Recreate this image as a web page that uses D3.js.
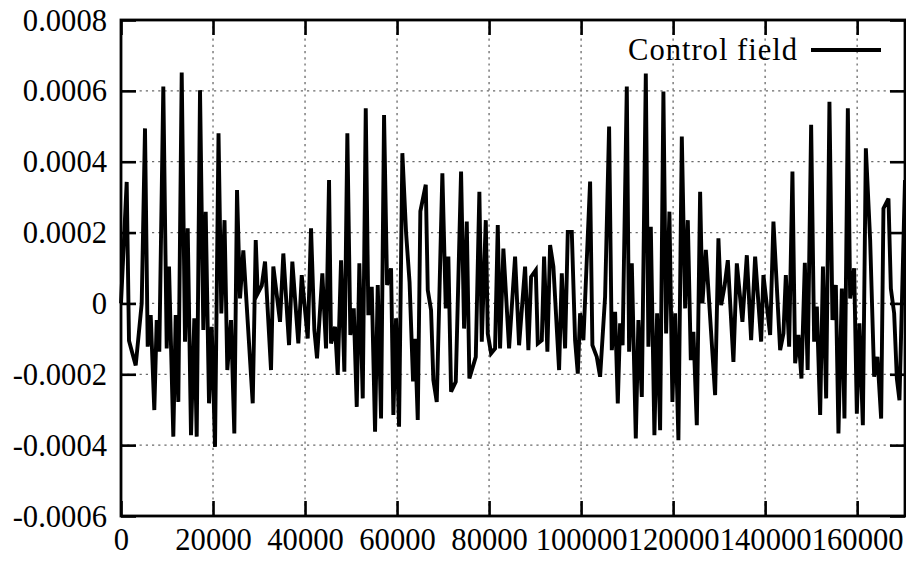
<!DOCTYPE html>
<html>
<head>
<meta charset="utf-8">
<script src="https://cdn.jsdelivr.net/npm/d3@7"></script>
<style>
  html, body { margin: 0; padding: 0; background: #fff; }
  svg text { font-family: "Liberation Serif", "DejaVu Serif", serif; fill: #000; }
</style>
</head>
<body>
<svg id="chart" width="906" height="563"></svg>
<script>
// ---- data ----
const seriesName = "Control field";
const timeValues = [0,1239,1739,2457,3196,4500,5217,5804,6457,7239,7761,8326,9196,9935,10435,11370,11891,12457,13196,13913,
14500,15217,15935,16457,17174,17891,18413,19130,19717,20435,21196,21804,22500,23109,23913,24630,25217,25870,26587,28630,
29283,29717,30587,31304,32609,33109,34565,35283,36522,37239,38543,39283,40587,41304,42022,42609,43761,44565,45217,45652,
46522,47109,47826,48543,49196,49848,50587,51239,51804,52543,53196,53761,54500,55217,55804,56522,57174,57826,58696,59196,
59783,60435,61152,61957,62717,63478,63913,64500,65065,66239,66674,67391,67891,68630,69848,70587,71152,71739,72761,73913,
74565,75152,75717,77109,77891,78413,79283,79717,80435,81304,81891,82391,83109,84348,85652,86522,87826,88543,89130,90152,
90587,91457,91957,92674,93261,93978,95217,95804,96522,97109,97978,98696,99283,99783,100500,101957,102457,103413,104130,105217,
106087,106674,107391,107978,108478,109022,109935,110435,111022,111891,112457,113196,114065,114630,115152,115935,116522,117174,117891,118478,
119196,119848,120435,121152,121891,122609,123196,123848,124413,125152,125870,126370,127109,129130,129848,130435,131196,131891,133109,133848,
135065,136022,136957,137826,139130,139630,141087,141804,143261,143978,144500,145217,145935,146522,147239,147891,148630,149239,150000,150652,
151239,151957,152565,153261,153978,154630,155370,155935,156674,157239,157978,158478,159348,159935,160500,161239,161891,162826,163696,164413,
165217,165717,166804,167326,168043,168630,169196,170400];
const fieldValues = [0.00000,0.000343,-0.000105,-0.000140,-0.000175,0.00000,0.000494,-0.000122,-0.000033,-0.000301,-0.000047,-0.000136,0.000612,-0.000127,0.000104,-0.000376,-0.000033,-0.000278,0.000652,-0.000108,
0.000212,-0.000372,-0.000042,-0.000376,0.000602,-0.000075,0.000259,-0.000282,-0.000066,-0.000405,0.000480,-0.000028,0.000235,-0.000188,-0.000047,-0.000367,0.000320,0.000014,0.000150,-0.000282,
0.000179,0.000028,0.000050,0.000118,-0.000188,0.000104,-0.000052,0.000141,-0.000118,0.000118,-0.000113,0.000080,-0.000099,0.000212,-0.000075,-0.000155,0.000085,-0.000127,0.000348,-0.000113,
-0.000066,-0.000202,0.000122,-0.000193,0.000480,-0.000089,-0.000014,-0.000292,0.000113,-0.000268,0.000551,-0.000033,0.000047,-0.000362,0.000052,-0.000325,0.000532,0.000052,0.000099,-0.000315,
-0.000042,-0.000348,0.000424,0.000200,0.000060,-0.000220,-0.000100,-0.000329,0.000260,0.000335,0.000038,-0.000019,-0.000216,-0.000278,0.000367,-0.000014,0.000132,-0.000249,-0.000221,0.000372,
-0.000071,0.000231,-0.000212,-0.000151,0.000315,-0.000108,0.000235,-0.000085,-0.000141,-0.000127,0.000221,-0.000127,0.000155,-0.000127,0.000132,-0.000118,0.000104,-0.000132,0.000075,0.000094,
-0.000113,-0.000104,0.000132,-0.000136,0.000165,0.000104,-0.000188,0.000085,-0.000127,0.000202,0.000202,-0.000104,-0.000198,-0.000028,-0.000104,0.000344,-0.000118,-0.000151,-0.000207,0.000019,
0.000499,-0.000132,-0.000024,-0.000282,-0.000056,-0.000118,0.000612,-0.000136,0.000113,-0.000381,-0.000047,-0.000264,0.000649,-0.000122,0.000216,-0.000372,-0.000028,-0.000358,0.000598,-0.000085,
0.000259,-0.000278,-0.000028,-0.000386,0.000471,-0.000014,0.000235,-0.000160,-0.000080,-0.000344,0.000315,0.000000,0.000151,-0.000259,0.000184,-0.000005,0.000050,0.000122,-0.000165,0.000113,
-0.000052,0.000136,-0.000104,0.000132,-0.000108,0.000080,-0.000089,0.000231,-0.000132,-0.000085,0.000080,-0.000122,0.000372,-0.000169,-0.000089,-0.000212,0.000115,-0.000188,0.000504,-0.000108,
-0.000009,-0.000315,0.000104,-0.000268,0.000569,-0.000047,0.000052,-0.000367,0.000042,-0.000325,0.000551,0.000014,0.000099,-0.000311,-0.000056,-0.000344,0.000438,0.000179,-0.000207,-0.000151,
-0.000325,0.000268,0.000296,0.000042,-0.000028,-0.000212,-0.000273,0.000348];
const xTickValues = [0,20000,40000,60000,80000,100000,120000,140000,160000];
const xTickLabels = ["0","20000","40000","60000","80000","100000","120000","140000","160000"];
const yTickValues = [-0.0006,-0.0004,-0.0002,0,0.0002,0.0004,0.0006,0.0008];
const yTickLabels = ["-0.0006","-0.0004","-0.0002","0","0.0002","0.0004","0.0006","0.0008"];

(function draw() {
  const svg = d3.select("#chart");
  const pL = 121, pR = 905, pT = 20, pB = 516;
  const x = d3.scaleLinear().domain([0, 170400]).range([pL, pR]);
  const y = d3.scaleLinear().domain([-0.0006, 0.0008]).range([pB, pT]);
  const fontSize = 30.6;
  const fontFam = "'Liberation Serif', 'DejaVu Serif', serif";

  const points = timeValues.map((t, i) => [t, fieldValues[i]]);

  // grid
  const grid = svg.append("g").attr("stroke", "#6a6a6a").attr("stroke-width", 1.3)
    .attr("stroke-dasharray", "2.2,4");
  grid.selectAll("line.gx").data(xTickValues.slice(1)).enter().append("line")
    .attr("x1", d => x(d)).attr("x2", d => x(d)).attr("y1", pT).attr("y2", pB);
  grid.selectAll("line.gy").data(yTickValues.slice(1, -1)).enter().append("line")
    .attr("y1", d => y(d)).attr("y2", d => y(d)).attr("x1", pL).attr("x2", pR);

  // data line
  svg.append("path").datum(points)
    .attr("fill", "none").attr("stroke", "#000").attr("stroke-width", 3.9)
    .attr("stroke-linejoin", "miter").attr("stroke-miterlimit", 4)
    .attr("d", d3.line().x(d => x(d[0])).y(d => y(d[1])));

  const tickLen = 15;
  const bottomAxis = d3.axisBottom(x).tickValues(xTickValues).tickSizeInner(-tickLen).tickSizeOuter(0)
    .tickFormat((d, i) => xTickLabels[i]).tickPadding(20);
  const topAxis = d3.axisTop(x).tickValues(xTickValues).tickSizeInner(-tickLen).tickSizeOuter(0).tickFormat("");
  const leftAxis = d3.axisLeft(y).tickValues(yTickValues).tickSizeInner(-tickLen).tickSizeOuter(0)
    .tickFormat((d, i) => yTickLabels[i]).tickPadding(14);
  const rightAxis = d3.axisRight(y).tickValues(yTickValues).tickSizeInner(-tickLen).tickSizeOuter(0).tickFormat("");

  function styleAxis(g) {
    g.select(".domain").remove();
    g.selectAll(".tick line").attr("stroke", "#000").attr("stroke-width", 2.6);
    g.selectAll(".tick text").attr("font-size", fontSize).attr("font-family", fontFam).attr("fill", "#000");
  }
  svg.append("g").attr("transform", `translate(0,${pB})`).call(bottomAxis).call(styleAxis)
    .selectAll(".tick text").attr("dy", "0.45em");
  svg.append("g").attr("transform", `translate(0,${pT})`).call(topAxis).call(styleAxis);
  svg.append("g").attr("transform", `translate(${pL},0)`).call(leftAxis).call(styleAxis)
    .selectAll(".tick text").attr("dy", "0.33em");
  svg.append("g").attr("transform", `translate(${pR},0)`).call(rightAxis).call(styleAxis);

  // frame
  svg.append("rect").attr("x", pL).attr("y", pT).attr("width", pR - pL).attr("height", pB - pT)
    .attr("fill", "none").attr("stroke", "#000").attr("stroke-width", 2.8);

  // legend
  svg.append("text").attr("x", 797).attr("y", 60).attr("text-anchor", "end")
    .attr("font-size", fontSize).attr("font-family", fontFam)
    .attr("textLength", 169).attr("lengthAdjust", "spacing")
    .text(seriesName);
  svg.append("line").attr("x1", 811).attr("x2", 881).attr("y1", 50).attr("y2", 50)
    .attr("stroke", "#000").attr("stroke-width", 3.8);
})();
</script>
</body>
</html>
